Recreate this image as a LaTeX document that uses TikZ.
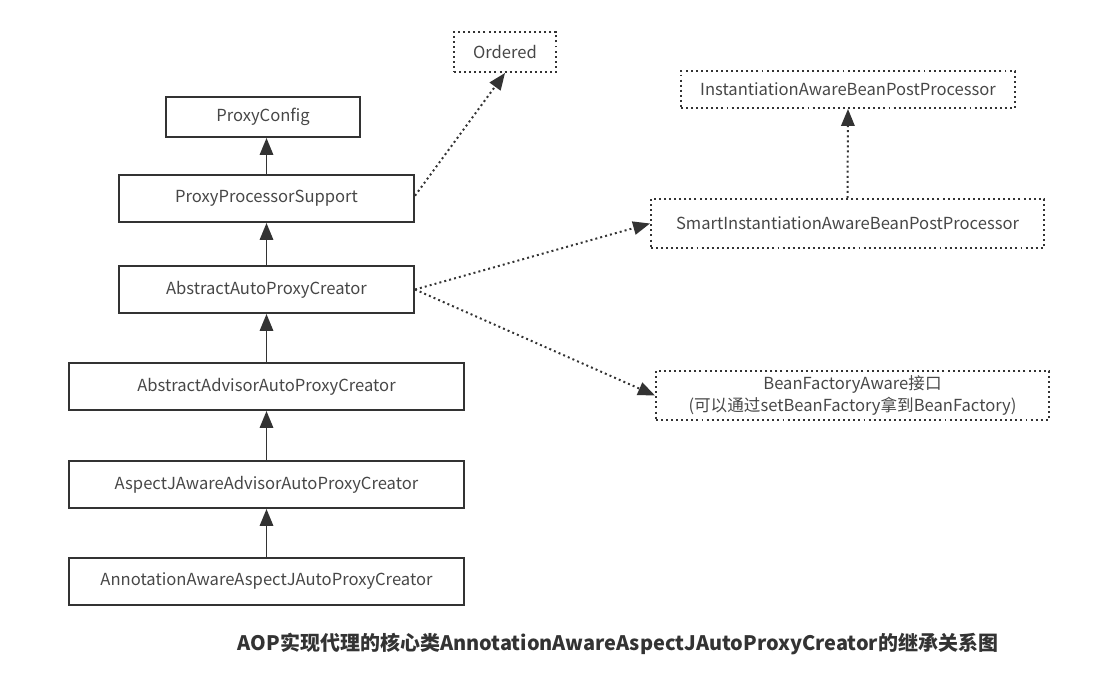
\documentclass[tikz,border=0pt]{standalone}
\usepackage{fontspec}
\setmainfont{Noto Sans CJK SC}
\usepackage{xcolor}
\usepackage{tikz}
\usetikzlibrary{positioning, arrows.meta, shapes.geometric, calc}
\definecolor{linegray}{HTML}{333333}

\begin{document}
\begin{tikzpicture}[x=0.025cm, y=-0.025cm,
    cls/.style={rectangle, draw=linegray, line width=1.4pt, font=\fontsize{11.8}{14}\selectfont, text=linegray!90},
    iface/.style={rectangle, draw=linegray, line width=1.4pt, dash pattern=on 1.4pt off 2.2pt, font=\fontsize{11.8}{14}\selectfont, text=linegray!90, align=center},
    extends/.style={-{Triangle[length=12pt, width=9.5pt]}, line width=1.4pt, draw=linegray},
    implements/.style={-{Triangle[length=12pt, width=9.5pt]}, line width=1.4pt, dash pattern=on 1.4pt off 2.2pt, draw=linegray}]
    \useasboundingbox (0,0) rectangle (1116,694);

    % Class chain
    \node[cls, minimum width=4.85cm, minimum height=1.0cm] (PC) at (263,117) {ProxyConfig};
    \node[cls, minimum width=7.375cm, minimum height=1.175cm] (PPS) at (266.5,198.5) {ProxyProcessorSupport};
    \node[cls, minimum width=7.375cm, minimum height=1.175cm] (AAPC) at (266.5,289.5) {AbstractAutoProxyCreator};
    \node[cls, minimum width=9.875cm, minimum height=1.175cm] (AdvAPC) at (266.5,386.5) {AbstractAdvisorAutoProxyCreator};
    \node[cls, minimum width=9.875cm, minimum height=1.175cm] (AJAPC) at (266.5,484.5) {AspectJAwareAdvisorAutoProxyCreator};
    \node[cls, minimum width=9.875cm, minimum height=1.175cm] (AnnAPC) at (266.5,581.5) {AnnotationAwareAspectJAutoProxyCreator};

    % Interfaces
    \node[iface, minimum width=2.55cm, minimum height=1.0cm] (Ord) at (505,52) {Ordered};
    \node[iface, minimum width=8.35cm, minimum height=0.925cm] (IABPP) at (848,89.5) {InstantiationAwareBeanPostProcessor};
    \node[iface, minimum width=9.825cm, minimum height=1.225cm] (SIABPP) at (847.5,223.5) {SmartInstantiationAwareBeanPostProcessor};
    \node[iface, minimum width=9.825cm, minimum height=1.225cm] (BFA) at (852.5,395.5) {BeanFactoryAware接口\\[1pt](可以通过setBeanFactory拿到BeanFactory)};

    % Caption
    \node[font=\fontsize{14.2}{17}\selectfont\bfseries, text=linegray] (cap) at (618,644) {AOP实现代理的核心类AnnotationAwareAspectJAutoProxyCreator的继承关系图};

    % Inheritance arrows
    \draw[extends] (PPS.north) -- (PPS.north |- PC.south);
    \draw[extends] (AAPC) -- (PPS);
    \draw[extends] (AdvAPC) -- (AAPC);
    \draw[extends] (AJAPC) -- (AdvAPC);
    \draw[extends] (AnnAPC) -- (AJAPC);

    % Implementation arrows
    \draw[implements] ([yshift=2pt]PPS.east) -- (Ord.south);
    \draw[implements] (AAPC.east) -- (SIABPP.west);
    \draw[implements] (AAPC.east) -- (BFA.west);
    \draw[implements] (SIABPP.north) -- (IABPP.south);
\end{tikzpicture}
\end{document}
